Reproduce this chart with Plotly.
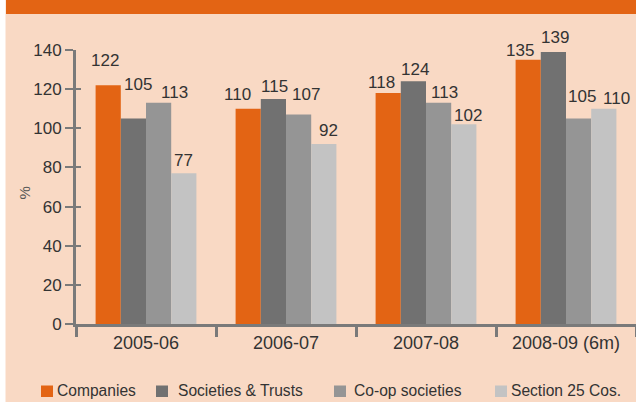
import plotly.graph_objects as go

# ---- data ----
categories = ["2005-06", "2006-07", "2007-08", "2008-09 (6m)"]
series_names = ["Companies", "Societies & Trusts", "Co-op societies", "Section 25 Cos."]
companies = [122, 110, 118, 135]
societies_trusts = [105, 115, 124, 139]
coop_societies = [113, 107, 113, 105]
section25 = [77, 92, 102, 110]
y_ticks = [0, 20, 40, 60, 80, 100, 120, 140]

series_values = [companies, societies_trusts, coop_societies, section25]

# ---- style ----
W, H = 636, 402
ML, MR, MT, MB = 76, 0, 50, 78
PW, PH = W - ML - MR, H - MT - MB
BG = "#F9D9C4"
colors = ["#E36414", "#717171", "#959595", "#C3C3C3"]
axis_col = "#7a7a7a"
text_col = "#333333"
FONT = "Liberation Sans, Arial, sans-serif"
BARGAP = 0.28

# label nudges (pixels) per series, per category: (dx, extra rise)
label_dx = [[-3.5, -11, -6.5, -8.5], [4.5, 1, 1.5, 1.5], [16, 7, 6, 3.5], [0, 5, 4, 13]]
label_rise = [[18, 8, 4, 3], [28, 6, 5, 7.5], [4, 14, 4, 16], [6, 7, 2, 4]]


def px_x(p):
    return (p - ML) / PW


def px_y(p):
    return (H - MB - p) / PH


fig = go.Figure()
for name, vals, col in zip(series_names, series_values, colors):
    fig.add_trace(go.Bar(x=categories, y=vals, name=name, marker_color=col,
                         marker_line_width=0, showlegend=False))

# dummy trace for overlay axis (inside half of the cross ticks)
fig.add_trace(go.Scatter(x=[categories[0]], y=[0], yaxis="y2", mode="markers",
                         marker=dict(opacity=0), showlegend=False, hoverinfo="skip"))

cat_w = PW / len(categories)
bar_w = cat_w * (1 - BARGAP) / len(series_names)
annotations = []
for i, vals in enumerate(series_values):
    for j, v in enumerate(vals):
        annotations.append(dict(
            x=categories[j], y=v, xref="x", yref="y", text=str(v), showarrow=False,
            xanchor="center", yanchor="bottom",
            xshift=(i - (len(series_names) - 1) / 2) * bar_w + label_dx[i][j],
            yshift=label_rise[i][j] - 5,
            font=dict(family=FONT, size=17, color=text_col)))

# y title
annotations.append(dict(x=px_x(23.5), y=px_y(193), xref="paper", yref="paper", text="%",
                        textangle=-90, showarrow=False, xanchor="center", yanchor="middle",
                        font=dict(family=FONT, size=15, color="#555555")))

# manual legend
leg_sq = [41, 156, 334, 495]
leg_tx = [56, 176.5, 352.5, 510]
shapes = []
for k, name in enumerate(series_names):
    shapes.append(dict(type="rect", xref="paper", yref="paper",
                       x0=px_x(leg_sq[k]), x1=px_x(leg_sq[k] + 12),
                       y0=px_y(385.5), y1=px_y(397), fillcolor=colors[k], line_width=0))
    annotations.append(dict(x=px_x(leg_tx[k] - 1), y=px_y(390), xref="paper", yref="paper",
                            text=name, showarrow=False, xanchor="left", yanchor="middle",
                            font=dict(family=FONT, size=15.6, color=text_col)))

# header band and left white strip
shapes.append(dict(type="rect", xref="paper", yref="paper", x0=px_x(6), x1=px_x(W),
                   y0=px_y(0), y1=px_y(14), fillcolor="#E36414", line_width=0, layer="below"))
shapes.append(dict(type="rect", xref="paper", yref="paper", x0=px_x(0), x1=px_x(5.5),
                   y0=px_y(0), y1=px_y(H), fillcolor="#FFFFFF", line_width=0, layer="below"))

fig.update_layout(
    width=W, height=H,
    margin=dict(l=ML, r=MR, t=MT, b=MB),
    paper_bgcolor=BG, plot_bgcolor=BG,
    barmode="group", bargap=BARGAP, bargroupgap=0,
    showlegend=False,
    font=dict(family=FONT, color=text_col),
    xaxis=dict(type="category", range=[-0.5, len(categories) - 0.5],
               showgrid=False, zeroline=False,
               showline=True, linecolor=axis_col, linewidth=3,
               ticks="outside", tickson="boundaries", ticklen=10, tickwidth=2.5,
               tickcolor=axis_col, tickfont=dict(family=FONT, size=18, color=text_col)),
    yaxis=dict(range=[0, 140], tickvals=y_ticks, showgrid=False, zeroline=False,
               showline=True, linecolor=axis_col, linewidth=3,
               ticks="outside", ticklen=8, tickwidth=2, tickcolor=axis_col,
               tickfont=dict(family=FONT, size=17, color=text_col)),
    yaxis2=dict(range=[0, 140], tickvals=y_ticks, overlaying="y", side="left",
                showgrid=False, zeroline=False, showline=False,
                ticks="inside", ticklen=5, tickwidth=2, tickcolor=axis_col,
                showticklabels=False),
    annotations=annotations,
    shapes=shapes,
)

fig.write_html("out.html", config={"displayModeBar": False},
               post_script="document.body.style.margin='0';document.body.style.overflow='hidden';")
